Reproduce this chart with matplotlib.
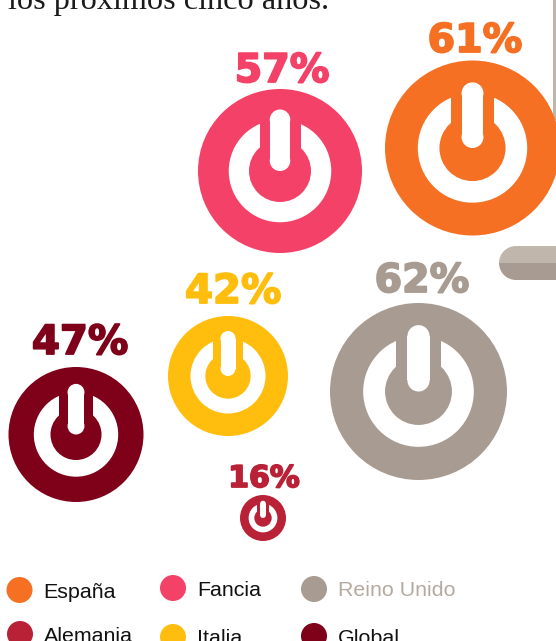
import matplotlib
matplotlib.use('Agg')
import matplotlib.pyplot as plt
import matplotlib.patheffects as pe
from matplotlib.patches import Circle, Rectangle, Wedge

# Datos
paises = ['España', 'Fancia', 'Italia', 'Reino Unido', 'Global', 'Alemania']
valores = [61, 57, 42, 62, 47, 16]

# Posicion y tamaño de cada circulo (en pixeles)
centro_x = [472.5, 280, 228, 418.5, 76, 263]
centro_y = [148, 171, 376, 391.5, 434.5, 518]
radios = [87.5, 82, 60, 88.5, 67.5, 23]
colores = ['#f57023', '#f44168', '#ffbe0d', '#a89c92', '#7f0019', '#b92236']

# Etiquetas de porcentaje
etiqueta_x = [475, 282, 233, 422, 80, 264]
etiqueta_y = [52, 82, 303, 292, 354, 487]
etiqueta_size = [28.5, 28.5, 29, 28.5, 29, 21.5]

# Leyenda
leyenda_nombres = ['España', 'Fancia', 'Reino Unido', 'Alemania', 'Italia', 'Global']
leyenda_colores = ['#f57023', '#f44168', '#a89c92', '#b92236', '#ffbe0d', '#7f0019']
leyenda_texto = ['#111111', '#111111', '#b5aaa0', '#111111', '#111111', '#111111']
leyenda_x = [19.5, 173, 314, 20, 173, 314]
leyenda_y = [590, 588, 589, 634, 637, 636]


def boton(ax, x, y, r, color):
    # Icono de encendido: anillo blanco, hueco de color y barra blanca
    ancho = r * 0.125
    ax.add_patch(Circle((x, y), r, color=color, lw=0))
    ax.add_patch(Circle((x, y), r * 0.625, color='white', lw=0))
    ax.add_patch(Rectangle((x - r * 0.25, y - r * 0.68), r * 0.5, r * 0.68, color=color, lw=0))
    ax.add_patch(Circle((x, y), r * 0.378, color=color, lw=0))
    # barra con puntas redondeadas
    ax.add_patch(Circle((x, y - ancho), ancho, color='white', lw=0))
    ax.add_patch(Circle((x, y - r * 0.75 + ancho), ancho, color='white', lw=0))
    ax.add_patch(Rectangle((x - ancho, y - r * 0.75 + ancho), ancho * 2, r * 0.75 - ancho * 2, color='white', lw=0))


fig = plt.figure(figsize=(5.56, 6.41), dpi=100)
ax = fig.add_axes([0, 0, 1, 1])
ax.set_xlim(0, 556)
ax.set_ylim(641, 0)
ax.axis('off')

# Texto cortado arriba
ax.text(8, 9, 'los próximos cinco años.', family='Liberation Serif', fontsize=23.2,
        color='#1a1a1a', ha='left', va='baseline', clip_on=False)

# Adornos grises de la derecha
ax.add_patch(Rectangle((553, 0), 3, 120, color='#bfb5ac', lw=0))
ax.add_patch(Wedge((516, 263), 17, 180, 270, color='#c0b6ac', lw=0))
ax.add_patch(Wedge((516, 263), 17, 90, 180, color='#a89c92', lw=0))
ax.add_patch(Rectangle((516, 246), 40, 17, color='#c0b6ac', lw=0))
ax.add_patch(Rectangle((516, 263), 40, 17, color='#a89c92', lw=0))

# Circulos y porcentajes
for i in range(len(paises)):
    boton(ax, centro_x[i], centro_y[i], radios[i], colores[i])
    ax.text(etiqueta_x[i], etiqueta_y[i], f'{valores[i]}%', family='DejaVu Sans', weight='bold',
            fontsize=etiqueta_size[i], color=colores[i], ha='center', va='baseline',
            path_effects=[pe.withStroke(linewidth=1.3, foreground=colores[i])])

# Leyenda
for i in range(len(leyenda_nombres)):
    ax.add_patch(Circle((leyenda_x[i], leyenda_y[i]), 13, color=leyenda_colores[i], lw=0))
    ax.text(leyenda_x[i] + 24, leyenda_y[i] + 7.5, leyenda_nombres[i], family='Liberation Sans',
            fontsize=15.4, color=leyenda_texto[i], ha='left', va='baseline')

fig.savefig('out.png', dpi=100)
